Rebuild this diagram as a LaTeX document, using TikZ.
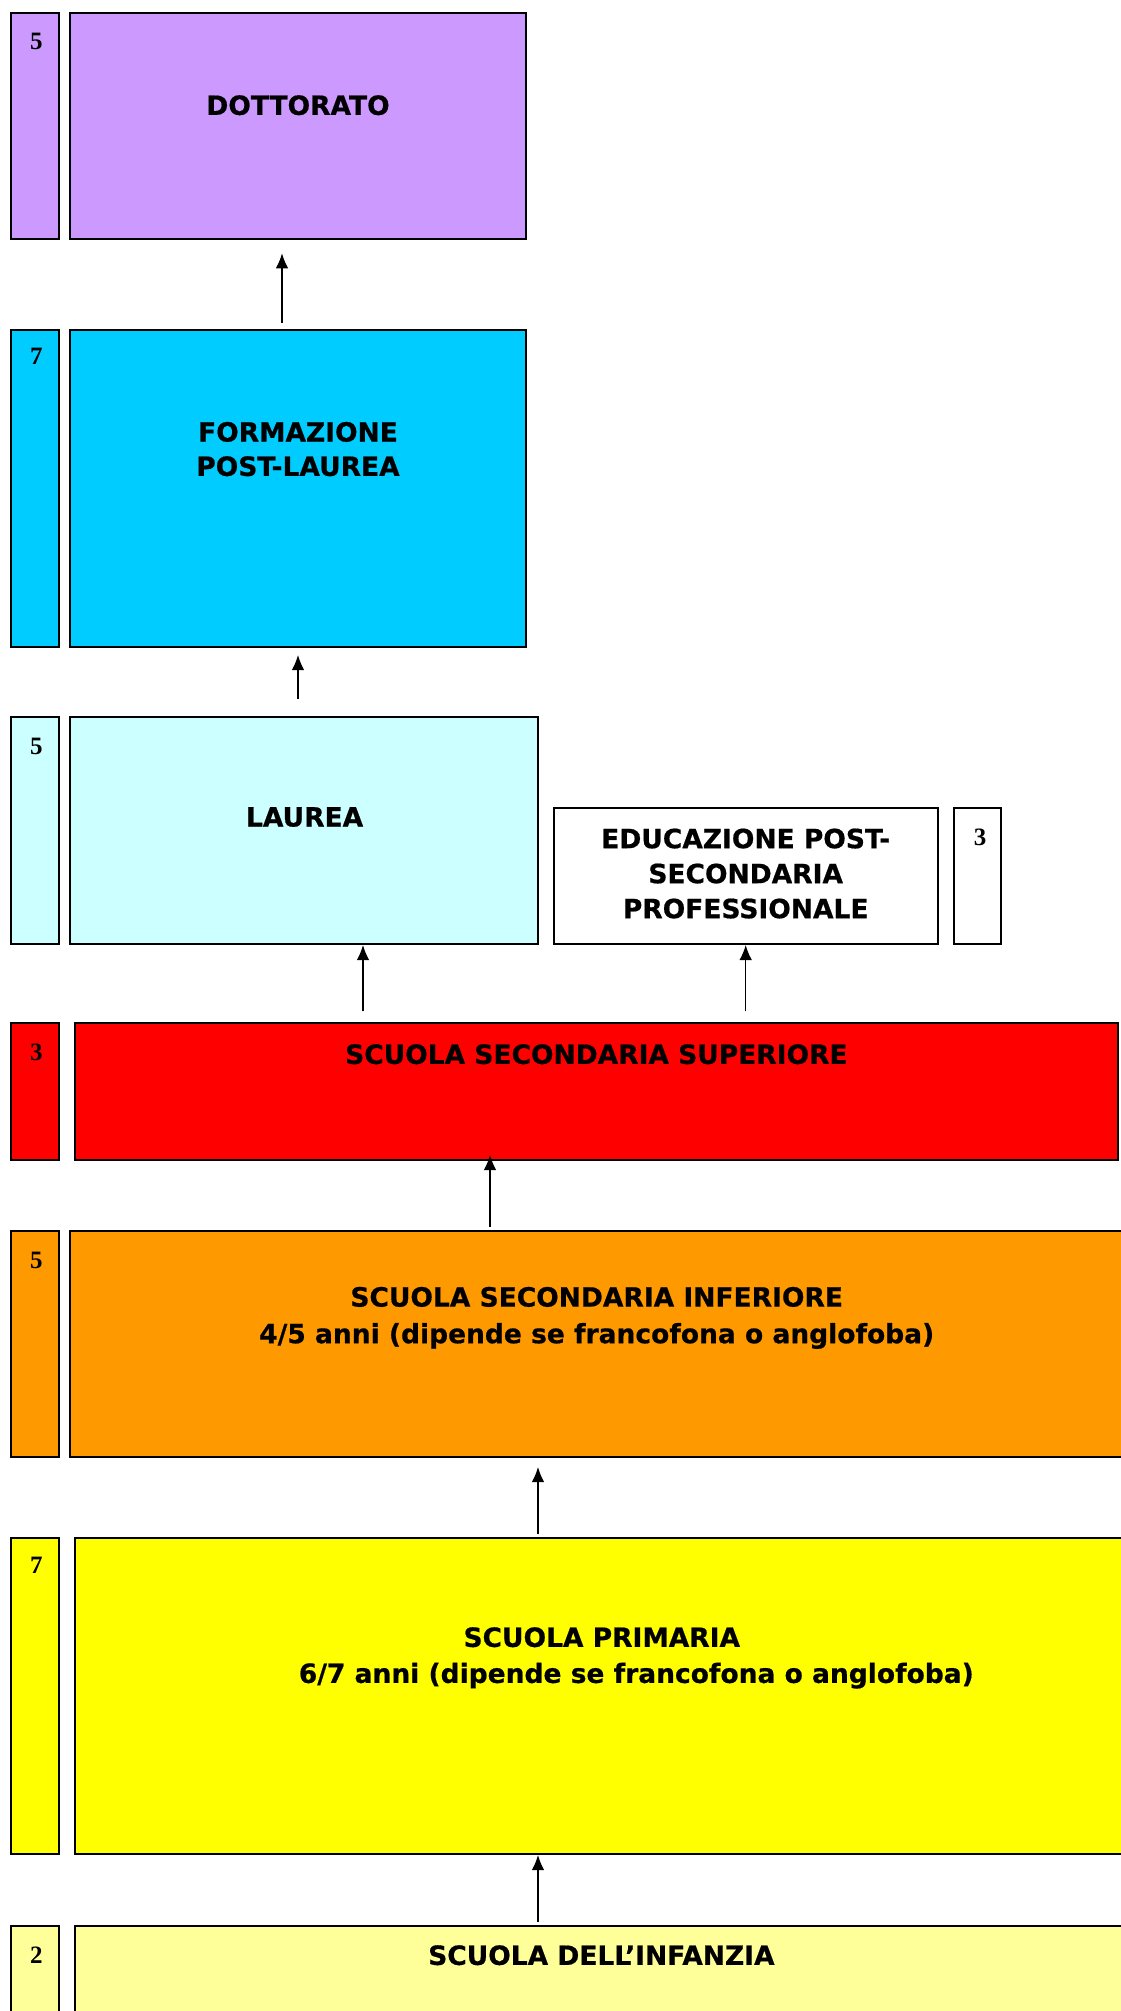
\documentclass[tikz,border=0pt]{standalone}
\usepackage{fontspec}
\setmainfont{DejaVu Sans}[BoldFeatures={FakeBold=0.6}]
\newfontfamily\numfont{Liberation Serif}
\usetikzlibrary{arrows.meta}
\definecolor{cviola}{HTML}{CC99FF}
\definecolor{ccyan}{HTML}{00CCFF}
\definecolor{clight}{HTML}{CCFFFF}
\definecolor{cred}{HTML}{FF0000}
\definecolor{corange}{HTML}{FF9900}
\definecolor{cyel}{HTML}{FFFF00}
\definecolor{cpale}{HTML}{FFFF99}
\begin{document}
\begin{tikzpicture}[x=1pt,y=-1pt,
  box/.style={draw=black, line width=2pt, inner sep=0pt, outer sep=0pt, anchor=north west},
  lbl/.style={anchor=north, inner sep=0pt, align=center, font=\fontsize{26.5}{35}\selectfont\bfseries},
  num/.style={anchor=north, inner sep=0pt, font=\fontsize{25}{28}\selectfont\numfont\bfseries},
  arr/.style={line width=1.3pt, -{Latex[length=15pt,width=12.5pt]}}]
\useasboundingbox[fill=white] (0,0) rectangle (1120,2011);
% DOTTORATO
\node[box, fill=cviola, minimum width=48.3pt, minimum height=226pt] (dS) at (10.7,13.3) {};
\node[box, fill=cviola, minimum width=456.1pt, minimum height=226pt] (dM) at (69.6,13.3) {};
\node[num] (dN) at (36.5,33.3) {5};
\node[lbl] (dT) at (298,95) {DOTTORATO};
% FORMAZIONE
\node[box, fill=ccyan, minimum width=48.3pt, minimum height=317pt] (cS) at (10.7,330) {};
\node[box, fill=ccyan, minimum width=456.1pt, minimum height=317pt] (cM) at (69.6,330) {};
\node[num] (cN) at (36.5,348.3) {7};
\node[lbl, font=\fontsize{26.5}{34.3}\selectfont\bfseries] (cT) at (298,421.7) {FORMAZIONE\\POST-LAUREA};
% LAUREA
\node[box, fill=clight, minimum width=47.9pt, minimum height=227.3pt] (lS) at (10.7,716.7) {};
\node[box, fill=clight, minimum width=468pt, minimum height=227.3pt] (lM) at (70,716.7) {};
\node[num] (lN) at (36.5,738.3) {5};
\node[lbl] (lT) at (304.6,807) {LAUREA};
% EDUCAZIONE
\node[box, fill=white, minimum width=384.4pt, minimum height=136.3pt] (eM) at (553.6,807.7) {};
\node[box, fill=white, minimum width=47.8pt, minimum height=136.3pt] (eS) at (953.6,807.7) {};
\node[num] (eN) at (980,828.3) {3};
\node[lbl] (eT) at (745.7,828.3) {EDUCAZIONE POST-\\SECONDARIA\\PROFESSIONALE};
% SUPERIORE
\node[box, fill=cred, minimum width=47.9pt, minimum height=136.7pt] (rS) at (10.7,1023.3) {};
\node[box, fill=cred, minimum width=1043pt, minimum height=136.7pt] (rM) at (75,1023.3) {};
\node[num] (rN) at (36.5,1043.3) {3};
\node[lbl] (rT) at (596.4,1044) {SCUOLA SECONDARIA SUPERIORE};
% INFERIORE
\node[box, fill=corange, minimum width=47.9pt, minimum height=226.3pt] (oS) at (10.7,1231) {};
\node[box, fill=corange, minimum width=1060pt, minimum height=226.3pt] (oM) at (70,1231) {};
\node[num] (oN) at (36.5,1251.7) {5};
\node[lbl, font=\fontsize{26.5}{36.6}\selectfont\bfseries] (oT) at (596.7,1286.7) {SCUOLA SECONDARIA INFERIORE\\4/5 anni (dipende se francofona o anglofoba)};
% PRIMARIA
\node[box, fill=cyel, minimum width=47.9pt, minimum height=316.5pt] (yS) at (10.7,1537.5) {};
\node[box, fill=cyel, minimum width=1060pt, minimum height=316.5pt] (yM) at (75,1537.5) {};
\node[num] (yN) at (36.5,1556.7) {7};
\node[lbl, font=\fontsize{26.5}{36}\selectfont\bfseries] (yT) at (601.8,1627) {SCUOLA PRIMARIA\\\hspace*{69pt}6/7 anni (dipende se francofona o anglofoba)};
% INFANZIA
\node[box, fill=cpale, minimum width=47.9pt, minimum height=120pt] (iS) at (10.7,1926) {};
\node[box, fill=cpale, minimum width=1060pt, minimum height=120pt] (iM) at (75,1926) {};
\node[num] (iN) at (36.5,1946.7) {2};
\node[lbl] (iT) at (601.4,1945) {SCUOLA DELL’INFANZIA};
% arrow x positions
\coordinate (ax1) at (282,0);
\coordinate (ax2) at (298,0);
\coordinate (ax3) at (363,0);
\coordinate (ax4) at (745.7,0);
\coordinate (ax5) at (490,0);
\coordinate (ax6) at (538,0);
% arrows
\draw[arr, shorten <=7pt, shorten >=14pt] (cM.north -| ax1) -- (dM.south -| ax1);
\draw[arr, shorten <=17.7pt, shorten >=8pt] (lM.north -| ax2) -- (cM.south -| ax2);
\draw[arr, shorten <=12pt, shorten >=1pt] (rM.north -| ax3) -- (lM.south -| ax3);
\draw[arr, shorten <=12pt, shorten >=1pt] (rM.north -| ax4) -- (eM.south -| ax4);
\draw[arr, shorten <=4.3pt, shorten >=-5pt] (oM.north -| ax5) -- (rM.south -| ax5);
\draw[arr, shorten <=3.4pt, shorten >=9.7pt] (yM.north -| ax6) -- (oM.south -| ax6);
\draw[arr, shorten <=4.3pt, shorten >=1pt] (iM.north -| ax6) -- (yM.south -| ax6);
\end{tikzpicture}
\end{document}
